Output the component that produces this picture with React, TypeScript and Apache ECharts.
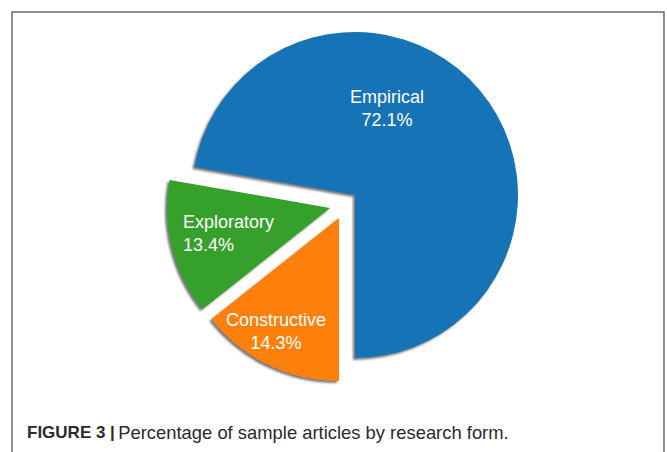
import { useEffect, useRef } from "react";
import * as echarts from "echarts";

// Share of sample articles per research form (percent)
const forms = ["Empirical", "Exploratory", "Constructive"];
const shares = [72.1, 13.4, 14.3];
const sliceColors = ["#1673b5", "#35a12c", "#fd800e"];

const captionLead = "FIGURE 3 |";
const captionBody = "Percentage of sample articles by research form.";

// Pie geometry
const CX = 355;
const CY = 195;
const R = 163;

// How far each slice is pulled away from the pie centre
const pull = [
  { x: 0, y: 0 },
  { x: -25, y: 13 },
  { x: -16, y: 23 },
];

// Label anchors relative to the pie centre
const labelSpots = [
  { dx: 32, dy: -87, align: "center" },
  { dx: -172, dy: 38, align: "left" },
  { dx: -79, dy: 136, align: "center" },
];

const FONT = "'Liberation Sans', Arial, Helvetica, sans-serif";
const HIDDEN = "rgba(0,0,0,0)";

export default function App() {
  const ref = useRef<HTMLDivElement>(null);

  useEffect(() => {
    if (!ref.current) return;
    const chart = echarts.init(ref.current, undefined, { renderer: "svg" });

    // One pie per slice, all sharing the same angles; each pie shows only
    // its own slice so that every slice can be pulled out on its own.
    const pies = forms.map((_, k) => ({
      type: "pie",
      center: [CX + pull[k].x, CY + pull[k].y],
      radius: R,
      startAngle: 270,
      clockwise: false,
      silent: true,
      z: 2,
      emphasis: { disabled: true },
      label: { show: false },
      labelLine: { show: false },
      data: forms.map((name, i) => ({
        name,
        value: shares[i],
        itemStyle:
          i === k
            ? {
                color: sliceColors[i],
                shadowBlur: 2,
                shadowOffsetX: -2,
                shadowOffsetY: 2,
                shadowColor: "rgba(70,70,70,0.75)",
              }
            : { color: HIDDEN },
      })),
    }));

    const labels = forms.map((name, i) => ({
      type: "text",
      silent: true,
      z: 10,
      x: CX + labelSpots[i].dx,
      y: CY + labelSpots[i].dy,
      style: {
        text: `${name}\n${shares[i]}%`,
        align: labelSpots[i].align,
        verticalAlign: "middle",
        fill: "#ffffff",
        fontFamily: FONT,
        fontSize: 18,
        lineHeight: 23,
      },
    }));

    chart.setOption({
      animation: false,
      backgroundColor: "#ffffff",
      series: pies,
      graphic: [
        {
          type: "rect",
          silent: true,
          shape: { x: 12, y: 12, width: 652, height: 470 },
          style: { fill: "none", stroke: "#6b6b6b", lineWidth: 1.5 },
        },
        ...labels,
        {
          type: "text",
          silent: true,
          x: 27,
          y: 432,
          style: {
            text: `{b|${captionLead}} {r|${captionBody}}`,
            verticalAlign: "middle",
            rich: {
              b: { fontFamily: FONT, fontWeight: "bold", fontSize: 17, fill: "#2a2a2a" },
              r: { fontFamily: FONT, fontSize: 18.4, fill: "#2a2a2a" },
            },
          },
        },
      ],
    });
    return () => chart.dispose();
  }, []);

  return (
    <div
      ref={ref}
      style={{ position: "absolute", left: 0, top: 0, width: 667, height: 452 }}
    />
  );
}
